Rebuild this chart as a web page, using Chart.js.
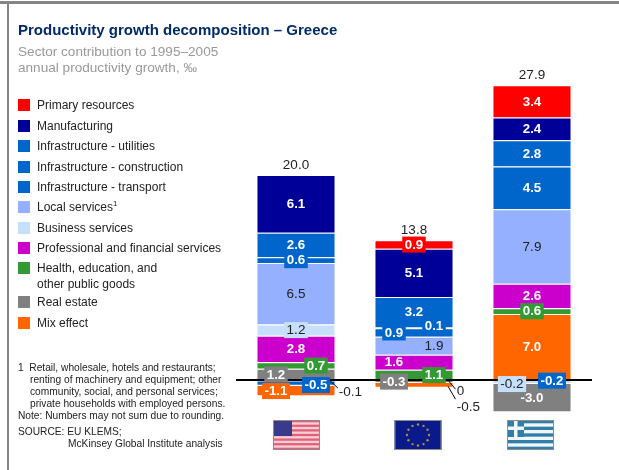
<!DOCTYPE html>
<html>
<head>
<meta charset="utf-8">
<script src="https://cdn.jsdelivr.net/npm/chart.js@4"></script>
<style>
  body { margin: 0; background: #fff; font-family: "Liberation Sans", Arial, sans-serif; }
  #page { position: relative; width: 619px; height: 470px; overflow: hidden; }
  #page div { position: absolute; white-space: nowrap; }
  canvas { position: absolute; left: 0; top: 0; }
  sup { font-size: 8px; line-height: 0; }
</style>
</head>
<body>
<div id="page">
  <canvas id="chart" width="619" height="470"></canvas>
  <div style="left:0;top:1px;width:619px;height:3px;background:#858585"></div>
  <div style="left:7px;top:1px;width:2px;height:469px;background:#858585"></div>
  <div style="left:18px;top:21px;font-size:15px;font-weight:bold;color:#002b66">Productivity growth decomposition – Greece</div>
  <div style="left:18px;top:43.5px;font-size:13.6px;line-height:16.5px;color:#999">Sector contribution to 1995–2005<br>annual productivity growth, ‰</div>
  <div style="left:18px;top:362px;font-size:10.2px;line-height:12px;color:#222">1&nbsp;&nbsp;Retail, wholesale, hotels and restaurants;</div>
  <div style="left:30px;top:374px;font-size:10.2px;line-height:12px;color:#222">renting of machinery and equipment; other<br>community, social, and personal services;<br>private households with employed persons.</div>
  <div style="left:18px;top:410px;font-size:10.2px;line-height:12px;color:#222">Note: Numbers may not sum due to rounding.</div>
  <div style="left:18px;top:426px;font-size:10.2px;line-height:12px;color:#222">SOURCE: EU KLEMS;</div>
  <div style="left:68px;top:438px;font-size:10.2px;line-height:12px;color:#222">McKinsey Global Institute analysis</div>
</div>
<script>
const regions = ['United States', 'EU', 'Greece'];
const totals = [20.0, 13.8, 27.9];

const sectors = [
  'Primary resources', 'Manufacturing', 'Infrastructure - utilities',
  'Infrastructure - construction', 'Infrastructure - transport', 'Local services',
  'Business services', 'Professional and financial services',
  'Health, education, and', 'Real estate', 'Mix effect'
];
const sectorColors = [
  '#ff0000', '#000099', '#0066cc', '#0066cc', '#0066cc', '#94b0ff',
  '#c6dffa', '#cc00cc', '#339933', '#808080', '#ff6600'
];

const primary = [-0.1, 0.9, 3.4];
const manufacturing = [6.1, 5.1, 2.4];
const utilities = [-0.5, 3.2, -0.2];
const construction = [2.6, 0.1, 2.8];
const transport = [0.6, 0.9, 4.5];
const localServices = [6.5, 1.9, 7.9];
const business = [1.2, 0, -0.2];
const professional = [2.8, 1.6, 2.6];
const health = [0.7, 1.1, 0.6];
const realEstate = [1.2, -0.3, -3.0];
const mix = [-1.1, -0.5, 7.0];
const sectorValues = [
  primary, manufacturing, utilities, construction, transport, localServices,
  business, professional, health, realEstate, mix
];

// legend rows on the left
const legendY = [105, 126, 146, 167, 187, 207, 228, 248, 268, 302, 323];
const page = document.getElementById('page');
sectors.forEach((name, i) => {
  const swatch = document.createElement('div');
  swatch.style.cssText = `left:18px;top:${legendY[i] - 6}px;width:12px;height:12px;background:${sectorColors[i]}`;
  page.appendChild(swatch);
  const text = document.createElement('div');
  text.style.cssText = `left:37px;top:${legendY[i] - 8}px;font-size:12px;line-height:16px;color:#222`;
  text.innerHTML = name === 'Local services' ? 'Local services<sup>1</sup>'
    : name === 'Health, education, and' ? 'Health, education, and<br>other public goods' : name;
  page.appendChild(text);
});

// label placement, by sector index and region index
const placement = {
  '9|0': { dx: -20, box: true },
  '8|0': { dx: 20, box: true },
  '2|0': { dx: 20, dy: 1.5, box: true },
  '10|0': { dx: -20, box: true },
  '4|0': { box: true },
  '6|0': { box: true },
  '0|1': { box: true },
  '4|1': { dx: -20, box: true },
  '3|1': { dx: 20, dy: -2, box: true },
  '5|1': { dx: 20 },
  '7|1': { dx: -20 },
  '8|1': { dx: 20, box: true },
  '9|1': { dx: -20, box: true },
  '8|2': { box: true },
  '6|2': { dx: -20, dy: 1, box: true },
  '2|2': { dx: 20, dy: -0.5, box: true }
};
// labels pulled out of the bar with a small leader line
const leaders = {
  '0|0': [33.5, 0, 42, 8, 54.5, 12],
  '6|1': [34, 0, 41.5, 9, 46.5, 11.5],
  '10|1': [34, 6, 41.5, 19, 54.5, 27]
};
const darkLabels = [5, 6];

function makeDataset(i, keep) {
  return {
    label: sectors[i],
    sectorIndex: i,
    data: sectorValues[i].map(v => keep(v) ? v : null),
    backgroundColor: sectorColors[i],
    borderColor: '#ffffff',
    borderWidth: 1,
    barPercentage: 0.67,
    categoryPercentage: 1
  };
}
// positive parts stack up from the bottom of the legend, negative parts go down from its top
const datasets = [];
for (let i = sectors.length - 1; i >= 0; i--) datasets.push(makeDataset(i, v => v > 0));
for (let i = 0; i < sectors.length; i++) datasets.push(makeDataset(i, v => v < 0));

function drawFlags(ctx) {
  const flagLeft = [273, 394.5, 507];
  const top = 420, w = 47, h = 30;
  ctx.save();
  ctx.filter = 'blur(0.5px)';
  // US
  let x = flagLeft[0];
  ctx.fillStyle = '#f6d0d6';
  ctx.fillRect(x, top, w, h);
  ctx.fillStyle = '#e4607a';
  for (let s = 0; s < 7; s++) ctx.fillRect(x, top + s * h / 6.5, w, h / 13);
  ctx.fillStyle = '#3a3a8c';
  ctx.fillRect(x, top, 19, 16);
  // EU
  x = flagLeft[1];
  ctx.fillStyle = '#0a1a8a';
  ctx.fillRect(x, top, w, h);
  ctx.fillStyle = '#a89048';
  for (let s = 0; s < 12; s++) {
    const a = s * Math.PI / 6;
    ctx.beginPath();
    ctx.arc(x + w / 2 + 11 * Math.cos(a), top + h / 2 + 10.5 * Math.sin(a), 1.2, 0, 2 * Math.PI);
    ctx.fill();
  }
  // Greece
  x = flagLeft[2];
  ctx.fillStyle = '#2f7fa8';
  ctx.fillRect(x, top, w, h);
  ctx.fillStyle = '#f2f6f8';
  for (let s = 1; s < 9; s += 2) ctx.fillRect(x, top + s * h / 9, w, h / 9);
  ctx.fillStyle = '#2f7fa8';
  ctx.fillRect(x, top, 17, 17);
  ctx.fillStyle = '#f2f6f8';
  ctx.fillRect(x + 7, top, 3.5, 17);
  ctx.fillRect(x, top + 6.5, 17, 3.5);
  // frames
  ctx.filter = 'none';
  ctx.strokeStyle = '#8c8c8c';
  flagLeft.forEach(l => ctx.strokeRect(l + 0.5, top + 0.5, w - 1, h - 1));
  ctx.restore();
}

const labelsPlugin = {
  id: 'labels',
  afterDraw(chart) {
    const ctx = chart.ctx;
    const xScale = chart.scales.x, yScale = chart.scales.y;
    const zero = yScale.getPixelForValue(0);
    ctx.save();
    ctx.textAlign = 'center';
    ctx.textBaseline = 'middle';
    const font = '13.5px "Liberation Sans", Arial, sans-serif';
    const boldFont = 'bold 13.3px "Liberation Sans", Arial, sans-serif';

    datasets.forEach((ds, d) => {
      const meta = chart.getDatasetMeta(d);
      ds.data.forEach((v, r) => {
        if (v === null) return;
        const key = ds.sectorIndex + '|' + r;
        if (leaders[key]) return;
        const el = meta.data[r];
        const p = placement[key] || {};
        const x = el.x + (p.dx || 0);
        const y = (el.y + el.base) / 2 + (p.dy || 0);
        const text = v.toFixed(1);
        const dark = darkLabels.includes(ds.sectorIndex);
        ctx.font = dark ? font : boldFont;
        if (p.box) {
          const w = ctx.measureText(text).width + 5;
          ctx.fillStyle = sectorColors[ds.sectorIndex];
          ctx.fillRect(x - w / 2, y - 8, w, 16);
        }
        ctx.fillStyle = dark ? '#222222' : '#ffffff';
        ctx.fillText(text, x, y + 0.5);
      });
    });

    // leader labels
    ctx.font = font;
    Object.keys(leaders).forEach(key => {
      const [s, r] = key.split('|').map(Number);
      const l = leaders[key];
      const cx = xScale.getPixelForValue(r);
      const v = sectorValues[s][r];
      ctx.strokeStyle = '#000000';
      ctx.lineWidth = 1;
      ctx.beginPath();
      ctx.moveTo(cx + l[0], zero + l[1]);
      ctx.lineTo(cx + l[2], zero + l[3]);
      ctx.stroke();
      ctx.fillStyle = '#222222';
      ctx.fillText(v === 0 ? '0' : v.toFixed(1), cx + l[4], zero + l[5]);
    });

    // totals over the stacks
    totals.forEach((t, r) => {
      let sum = 0;
      sectorValues.forEach(vals => { if (vals[r] > 0) sum += vals[r]; });
      ctx.fillStyle = '#222222';
      ctx.fillText(t.toFixed(1), xScale.getPixelForValue(r), yScale.getPixelForValue(sum) - 10);
    });
    ctx.restore();
    drawFlags(ctx);
  }
};

new Chart(document.getElementById('chart'), {
  type: 'bar',
  data: { labels: regions, datasets: datasets },
  plugins: [labelsPlugin],
  options: {
    responsive: false,
    animation: false,
    layout: { padding: { left: 237, right: 28, top: 68.3, bottom: 52 } },
    plugins: { legend: { display: false }, tooltip: { enabled: false } },
    scales: {
      x: {
        stacked: true,
        position: { y: 0 },
        grid: { display: false },
        ticks: { display: false },
        border: { color: '#000000', width: 2, z: 1 }
      },
      y: {
        stacked: true,
        display: false,
        min: -4,
        max: 33
      }
    }
  }
});
</script>
</body>
</html>
